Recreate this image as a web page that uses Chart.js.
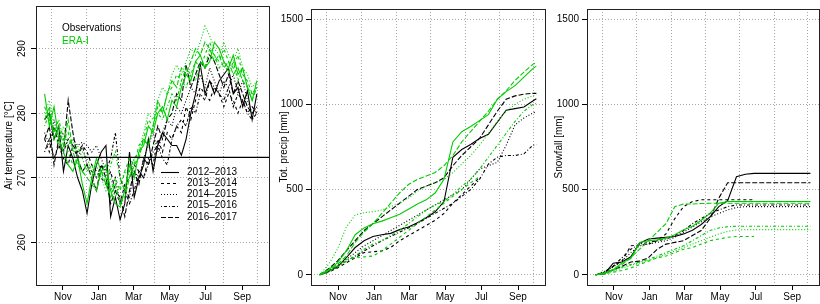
<!DOCTYPE html>
<html>
<head>
<meta charset="utf-8">
<script src="https://cdn.jsdelivr.net/npm/chart.js@4.4.1/dist/chart.umd.min.js"></script>
<style>
  body { margin: 0; background: #fff; }
  #wrap { position: relative; width: 820px; height: 304px; }
  canvas { position: absolute; top: 0; }
</style>
</head>
<body>
<div id="wrap">
  <canvas id="temp" width="275" height="304" style="left:0"></canvas>
  <canvas id="precip" width="275" height="304" style="left:275px"></canvas>
  <canvas id="snow" width="270" height="304" style="left:550px"></canvas>
</div>
<script>
// eixo x: dias desde 1 de outubro
const monthDays = [31, 92, 151, 212, 273, 335];
const monthLabels = ["Nov", "Jan", "Mar", "May", "Jul", "Sep"];
const gridDays = [12, 70.5, 129, 187, 245.5, 304, 361];
const years = ["2012\u20132013", "2013\u20132014", "2014\u20132015", "2015\u20132016", "2016\u20132017"];

const tempTicks = [260, 270, 280, 290];
const mmTicks = [0, 500, 1000, 1500];
const FREEZING_K = 273.15;

// temperatura do ar (K), amostrada a cada 8 dias
const tempDays = [0, 8, 16, 24, 32, 40, 48, 56, 64, 72, 80, 88, 96, 104, 112, 120, 128, 136, 144, 152,
  160, 168, 176, 184, 192, 200, 208, 216, 224, 232, 240, 248, 256, 264, 272, 280, 288, 296, 304, 312,
  320, 328, 336, 344, 352, 360];

const tempObs1213 = [279, 280, 276, 278, 271, 275, 273, 270, 268, 264.5, 269, 272, 274, 275, 264, 267, 263.5, 266, 274, 267,
  270, 272, 276, 271, 275, 277, 276, 275, 275, 273.5, 276, 280, 283, 287.5, 283, 285, 283, 285, 286, 287,
  283, 284, 281, 283.5, 279, 283];
const tempObs1314 = [276, 274, 278, 275, 273, 272, 275, 274, 275, 274, 272, 271, 270, 269, 271, 268, 266, 269, 270, 272,
  271, 270, 273, 272, 276, 274, 277, 276, 278, 277, 281, 279, 282, 284, 283, 282, 284, 283, 281, 283,
  282, 280, 282, 280, 281, 280];
const tempObs1415 = [277, 275, 279, 276, 277, 275, 276, 275, 275.5, 275, 274, 275, 273, 271, 268, 270, 266, 268, 267, 271,
  270, 273, 275, 277, 274, 277, 279, 278, 281, 280, 282, 284, 283, 286, 284, 287, 285, 283, 285, 284,
  286, 283, 285, 282, 280, 281];
const tempObs1516 = [274, 276, 273, 275, 274, 276, 275, 273, 275, 272, 271, 270, 272, 271, 273, 277, 270, 268, 266, 268,
  271, 270, 272, 274, 275, 273, 272, 276, 278, 279, 278, 281, 280, 283, 282, 285, 284, 283, 282, 284,
  281, 283, 282, 280, 279, 280];
const tempObs1617 = [276, 278, 272, 276, 274, 282, 277, 273, 271, 272, 270, 268, 272, 270, 266, 268, 267, 264, 268, 271,
  269, 273, 272, 275, 278, 276, 279, 280, 283, 282, 287.5, 284, 286, 288, 287, 289, 288, 286, 284, 286,
  283, 285, 283, 281, 280, 281];

const tempEra1213 = [283, 278, 281, 276, 274, 272, 271, 273, 269, 266, 270, 273, 271, 272, 268, 266, 265.5, 268, 272, 270,
  274, 275, 278, 277, 280, 281, 279, 282, 281, 284, 286, 285, 288, 289, 287, 288, 291, 290, 288, 287,
  289, 286, 287, 284, 282, 285];
const tempEra1314 = [281, 279, 277, 275, 276, 274, 272, 273, 271, 272, 270, 268, 271, 269, 267, 270, 268, 271, 273, 272,
  275, 276, 279, 278, 281, 280, 283, 284, 286, 285, 287, 286, 288, 287, 289, 291, 289, 288, 290, 288,
  287, 289, 286, 285, 283, 284];
const tempEra1415 = [280, 282, 278, 276, 278, 275, 276, 273, 274, 273, 271, 272, 270, 268, 270, 267, 269, 271, 270, 273,
  274, 277, 280, 279, 282, 284, 283, 286, 287.5, 286, 288, 290, 289, 291, 293.5, 292, 290, 289, 291, 289,
  288, 290, 287, 286, 284, 285];
const tempEra1516 = [278, 280, 277, 279, 276, 277, 274, 275, 273, 271, 272, 270, 271, 269, 272, 274, 270, 268, 271, 273,
  274, 276, 275, 278, 280, 279, 281, 283, 282, 285, 284, 286, 285, 288, 287, 290, 289, 287, 288, 286,
  288, 285, 287, 284, 283, 284];
const tempEra1617 = [279, 281, 276, 278, 275, 279, 274, 272, 271, 270, 269, 268, 271, 270, 267, 269, 266, 267, 270, 272,
  273, 276, 275, 278, 282, 280, 283, 285, 284, 287, 286, 288, 290, 289, 291, 290, 288, 289, 287, 288,
  286, 287, 285, 284, 282, 284];

// acumulados (mm), amostrados a cada 15 dias
const cumDays = [0, 15, 30, 45, 60, 75, 90, 105, 120, 135, 150, 165, 180, 195, 210, 225, 240, 255, 270, 285,
  300, 315, 330, 345, 360, 366];

const precipObs1213 = [0, 20, 45, 100, 160, 200, 225, 235, 243, 265, 280, 305, 335, 370, 430, 690, 735, 765, 800, 825, 895, 966, 975, 985, 1020, 1033];
const precipObs1314 = [0, 15, 40, 70, 100, 130, 135, 140, 160, 200, 230, 260, 290, 320, 360, 420, 470, 520, 570, null, null, null, null, null, null, null];
const precipObs1415 = [0, 25, 55, 90, 130, 170, 200, 230, 260, 290, 320, 350, 380, 410, 440, 470, 500, 560, 620, 640, 660, 760, 880, 920, 950, 956];
const precipObs1516 = [0, 20, 50, 80, 110, 140, 170, 200, 225, 250, 275, 300, 330, 360, 390, 420, 460, 500, 560, 650, 690, 700, 700, 710, 760, 765];
const precipObs1617 = [0, 35, 80, 140, 200, 260, 300, 340, 380, 420, 460, 500, 520, 540, 570, 640, 700, 750, 800, 880, 960, 1030, 1050, 1060, 1065, 1065];

const precipEra1213 = [0, 30, 70, 140, 235, 275, 300, 315, 335, 355, 385, 415, 440, 480, 560, 780, 840, 870, 905, 940, 1030, 1075, 1110, 1160, 1210, 1225];
const precipEra1314 = [0, 20, 50, 90, 100, 105, 110, 140, 180, 220, 260, 300, 340, 380, 420, 460, 500, 540, 575, null, null, null, null, null, null, null];
const precipEra1415 = [0, 60, 150, 280, 350, 365, 370, 380, 400, 420, 450, 490, 520, 540, 560, 600, 650, 700, 760, 830, 900, 960, 1000, 1030, 1050, 1055];
const precipEra1516 = [0, 20, 45, 80, 110, 150, 180, 200, 230, 260, 300, 340, 380, 410, 430, 470, 520, 560, 620, 690, 760, 830, 900, 960, 1000, 1005];
const precipEra1617 = [0, 25, 60, 110, 190, 250, 300, 360, 420, 480, 530, 560, 580, 600, 640, 700, 780, 840, 900, 960, 1030, 1080, 1140, 1190, 1235, 1245];

const snowObs1213 = [0, 5, 68, 75, 106, 185, 210, 215, 220, 225, 240, 262, 295, 340, 400, 435, 575, 590, 595, 595, 595, 595, 595, 595, 595, 595];
const snowObs1314 = [0, 10, 50, 80, 170, 175, 180, 200, 240, 330, 400, 430, 440, 440, 440, 440, 440, 440, 440, null, null, null, null, null, null, null];
const snowObs1415 = [0, 20, 45, 80, 130, 170, 180, 190, 200, 220, 250, 280, 310, 340, 360, 380, 395, 400, 400, 400, 400, 400, 400, 400, 400, 400];
const snowObs1516 = [0, 15, 50, 100, 150, 180, 190, 200, 210, 230, 260, 300, 330, 360, 380, 400, 410, 410, 410, 410, 410, 410, 410, 410, 410, 410];
const snowObs1617 = [0, 10, 30, 50, 75, 80, 100, 150, 180, 190, 200, 230, 260, 330, 450, 540, 540, 540, 540, 540, 540, 540, 540, 540, 540, 540];

const snowEra1213 = [0, 10, 30, 70, 95, 190, 200, 205, 215, 235, 265, 285, 320, 360, 420, 430, 430, 430, 430, 430, 430, 430, 430, 430, 430, 430];
const snowEra1314 = [0, 5, 15, 25, 40, 60, 80, 100, 110, 130, 150, 160, 180, 200, 210, 220, 225, 225, 225, null, null, null, null, null, null, null];
const snowEra1415 = [0, 8, 20, 40, 55, 70, 85, 100, 120, 140, 160, 180, 200, 220, 240, 255, 262, 265, 265, 265, 265, 265, 265, 265, 265, 265];
const snowEra1516 = [0, 5, 25, 45, 60, 75, 90, 110, 130, 150, 170, 200, 230, 260, 275, 282, 285, 285, 285, 285, 285, 285, 285, 285, 285, 285];
const snowEra1617 = [0, 10, 30, 60, 100, 150, 200, 250, 300, 400, 415, 415, 418, 420, 420, 420, 420, 420, 420, 420, 420, 420, 420, 420, 420, 420];

// estilos
const OBS_COLOR = "#000000";
const ERA_COLOR = "#00cd00";
const GRID_COLOR = "#a8a8a8";
const dashes = [[], [3, 3], [1, 2], [1, 2, 3, 2], [5, 2]];
const FONT = { family: "'Liberation Sans', Arial, Helvetica, sans-serif", size: 10 };
const X_MIN = -14.6;
const X_MAX = 380.6;

function fixedTicks(values) {
  return function (scale) {
    scale.ticks = values.map((v) => ({ value: v }));
  };
}

function serie(days, values, color, dash) {
  return {
    data: days.map((d, i) => ({ x: d, y: values[i] })),
    borderColor: color,
    borderDash: dash,
    borderWidth: 1.1,
    pointRadius: 0,
    fill: false,
    tension: 0,
    spanGaps: false,
  };
}

function datasets(days, obs, era) {
  // ERA primeiro para ficar por cima
  return era.map((v, i) => serie(days, v, ERA_COLOR, dashes[i]))
    .concat(obs.map((v, i) => serie(days, v, OBS_COLOR, dashes[i])));
}

function scales(yMin, yMax, yTicks, yTitle, yWidth, rotate) {
  return {
    x: {
      type: "linear",
      position: "bottom",
      min: X_MIN,
      max: X_MAX,
      afterBuildTicks: fixedTicks(monthDays),
      afterFit: (s) => { s.height = 19; },
      grid: { drawOnChartArea: false, drawTicks: true, tickLength: 5, tickColor: "#000", color: "#000" },
      border: { display: false },
      ticks: {
        autoSkip: false,
        maxRotation: 0,
        padding: 1,
        color: "#000",
        font: FONT,
        callback: (v, i) => monthLabels[i],
      },
    },
    xg: {
      type: "linear",
      position: "top",
      min: X_MIN,
      max: X_MAX,
      afterBuildTicks: fixedTicks(gridDays),
      afterFit: (s) => { s.height = 0; },
      grid: { color: GRID_COLOR, lineWidth: 1, drawTicks: false },
      border: { display: false, dash: [1, 2] },
      ticks: { display: false },
    },
    y: {
      type: "linear",
      min: yMin,
      max: yMax,
      afterBuildTicks: fixedTicks(yTicks),
      afterFit: (s) => { s.width = yWidth; },
      grid: { color: GRID_COLOR, lineWidth: 1, tickColor: "#000", tickLength: 5, tickBorderDash: [] },
      border: { display: false, dash: [1, 2] },
      ticks: {
        color: "#000",
        font: FONT,
        padding: rotate ? 0 : 3,
        minRotation: rotate ? 90 : 0,
        maxRotation: rotate ? 90 : 0,
        crossAlign: rotate ? "center" : "near",
        callback: (v) => String(v),
      },
      title: { display: true, text: yTitle, color: "#000", font: FONT, padding: { top: 3, bottom: 0 } },
    },
  };
}

const boxPlugin = {
  id: "box",
  afterDraw(chart) {
    const a = chart.chartArea;
    const ctx = chart.ctx;
    ctx.save();
    ctx.strokeStyle = "#222";
    ctx.lineWidth = 1;
    ctx.strokeRect(Math.round(a.left) + 0.5, Math.round(a.top) + 0.5,
      Math.round(a.right - a.left), Math.round(a.bottom - a.top));
    ctx.restore();
  },
};

// linha de congelamento e legendas do painel de temperatura
const tempExtras = {
  id: "tempExtras",
  afterDatasetsDraw(chart) {
    const a = chart.chartArea;
    const ctx = chart.ctx;
    const y0 = chart.scales.y.getPixelForValue(FREEZING_K);
    ctx.save();
    ctx.strokeStyle = "#000";
    ctx.lineWidth = 1.2;
    ctx.beginPath();
    ctx.moveTo(a.left, y0);
    ctx.lineTo(a.right, y0);
    ctx.stroke();

    ctx.font = "10px 'Liberation Sans', Arial, sans-serif";
    ctx.textBaseline = "middle";
    ctx.textAlign = "left";
    ctx.fillStyle = "#000";
    ctx.fillText("Observations", a.left + 26, a.top + 22);
    ctx.fillStyle = ERA_COLOR;
    ctx.fillText("ERA-I", a.left + 26, a.top + 35);

    years.forEach((label, i) => {
      const yy = a.top + 166 + i * 11.2;
      ctx.strokeStyle = "#000";
      ctx.lineWidth = 1.1;
      ctx.setLineDash(dashes[i]);
      ctx.beginPath();
      ctx.moveTo(a.left + 125, Math.round(yy) + 0.5);
      ctx.lineTo(a.left + 143, Math.round(yy) + 0.5);
      ctx.stroke();
      ctx.setLineDash([]);
      ctx.fillStyle = "#000";
      ctx.fillText(label, a.left + 151, yy);
    });
    ctx.restore();
  },
};

function baseOptions(padRight, sc) {
  return {
    responsive: false,
    animation: false,
    devicePixelRatio: 1,
    layout: { padding: { left: 0, right: padRight, top: 5, bottom: 0 } },
    plugins: { legend: { display: false }, tooltip: { enabled: false } },
    scales: sc,
  };
}

new Chart(document.getElementById("temp"), {
  type: "line",
  data: {
    datasets: datasets(tempDays,
      [tempObs1213, tempObs1314, tempObs1415, tempObs1516, tempObs1617],
      [tempEra1213, tempEra1314, tempEra1415, tempEra1516, tempEra1617]),
  },
  options: baseOptions(6, scales(253.4, 296.6, tempTicks, "Air temperature [\u00b0C]", 36, true)),
  plugins: [boxPlugin, tempExtras],
});

new Chart(document.getElementById("precip"), {
  type: "line",
  data: {
    datasets: datasets(cumDays,
      [precipObs1213, precipObs1314, precipObs1415, precipObs1516, precipObs1617],
      [precipEra1213, precipEra1314, precipEra1415, precipEra1516, precipEra1617]),
  },
  options: baseOptions(5, scales(-60, 1560, mmTicks, "Tot. precip [mm]", 36, false)),
  plugins: [boxPlugin],
});

new Chart(document.getElementById("snow"), {
  type: "line",
  data: {
    datasets: datasets(cumDays,
      [snowObs1213, snowObs1314, snowObs1415, snowObs1516, snowObs1617],
      [snowEra1213, snowEra1314, snowEra1415, snowEra1516, snowEra1617]),
  },
  options: baseOptions(1, scales(-60, 1560, mmTicks, "Snowfall [mm]", 37, false)),
  plugins: [boxPlugin],
});
</script>
</body>
</html>
